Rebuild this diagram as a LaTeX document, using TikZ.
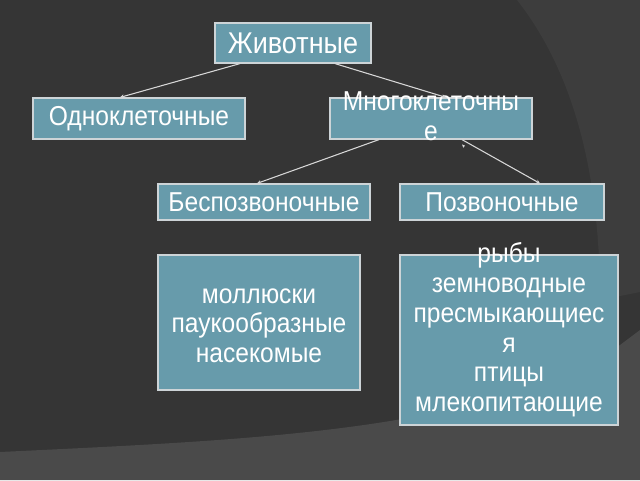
\documentclass[tikz,border=0pt]{standalone}
\usepackage{fontspec}
\setmainfont{Liberation Sans}[FakeStretch=0.9]
\usetikzlibrary{arrows.meta}
\definecolor{bgmain}{RGB}{53,53,53}
\definecolor{bgright}{RGB}{61,61,61}
\definecolor{bgband}{RGB}{74,74,74}
\definecolor{boxfill}{RGB}{103,155,171}
\definecolor{boxline}{RGB}{205,212,215}
\definecolor{linec}{RGB}{215,215,215}
\newcommand{\mlines}[2]{\smash{\raisebox{#1}{\begin{tabular}{@{}c@{}}#2\end{tabular}}}}
\tikzset{
  box/.style={draw=boxline, line width=0.9pt, fill=boxfill, text=white, inner sep=0pt, align=center,
    font=\fontsize{20.5}{22.3}\selectfont},
  conn/.style={draw=linec, line width=0.8pt, -{Stealth[length=3pt,width=3pt]}},
}
\begin{document}
\begin{tikzpicture}[x=0.75pt,y=-0.75pt]
\useasboundingbox (0,0) rectangle (640,480);
% background
\fill[bgmain] (0,0) rectangle (640,480);
\fill[bgright] (517,0) .. controls (572,70) and (600,170) .. (600,300) -- (640,292) -- (640,0) -- cycle;
\fill[bgband] (0,452) .. controls (250,440) and (450,432) .. (600,360) -- (640,330) -- (640,480) -- (0,480) -- cycle;
% boxes
\node[box, minimum width=0.75*156pt, minimum height=0.75*40pt, font=\fontsize{22.5}{24}\selectfont] (A) at (293,43) {Животные};
\node[box, minimum width=0.75*212pt, minimum height=0.75*41pt] (B) at (139,118.5) {Одноклеточные};
\node[box, minimum width=0.75*202pt, minimum height=0.75*41pt] (C) at (431,118.5) {\mlines{-6pt}{Многоклеточны\\е}};
\node[box, minimum width=0.75*212pt, minimum height=0.75*36pt] (D) at (264,202) {Беспозвоночные};
\node[box, minimum width=0.75*204pt, minimum height=0.75*36pt] (E) at (502,202) {Позвоночные};
\node[box, minimum width=0.75*202pt, minimum height=0.75*135pt] (F) at (259,322.5) {\mlines{-8.4pt}{моллюски\\паукообразные\\насекомые}};
\node[box, minimum width=0.75*218pt, minimum height=0.75*170pt] (G) at (509,340) {\mlines{1.4pt}{рыбы\\земноводные\\пресмыкающиес\\я\\птицы\\млекопитающие}};
% connectors
\draw[conn] ([xshift=-0.75*53pt]A.south) -- ([xshift=-0.75*19pt]B.north);
\draw[conn] ([xshift=0.75*42pt]A.south) -- ([xshift=0.75*15pt]C.north);
\draw[conn] ([xshift=-0.75*52pt]C.south) -- ([xshift=-0.75*7pt]D.north);
\draw[conn] ([xshift=0.75*31pt]C.south) -- ([xshift=0.75*38pt]E.north);
\coordinate (m) at ([xshift=0.75*31pt,yshift=-3.6pt]C.south);
\fill[linec] (m) -- ++(2.2pt,-0.9pt) -- ++(-1.2pt,-1.6pt) -- cycle;
\end{tikzpicture}
\end{document}
